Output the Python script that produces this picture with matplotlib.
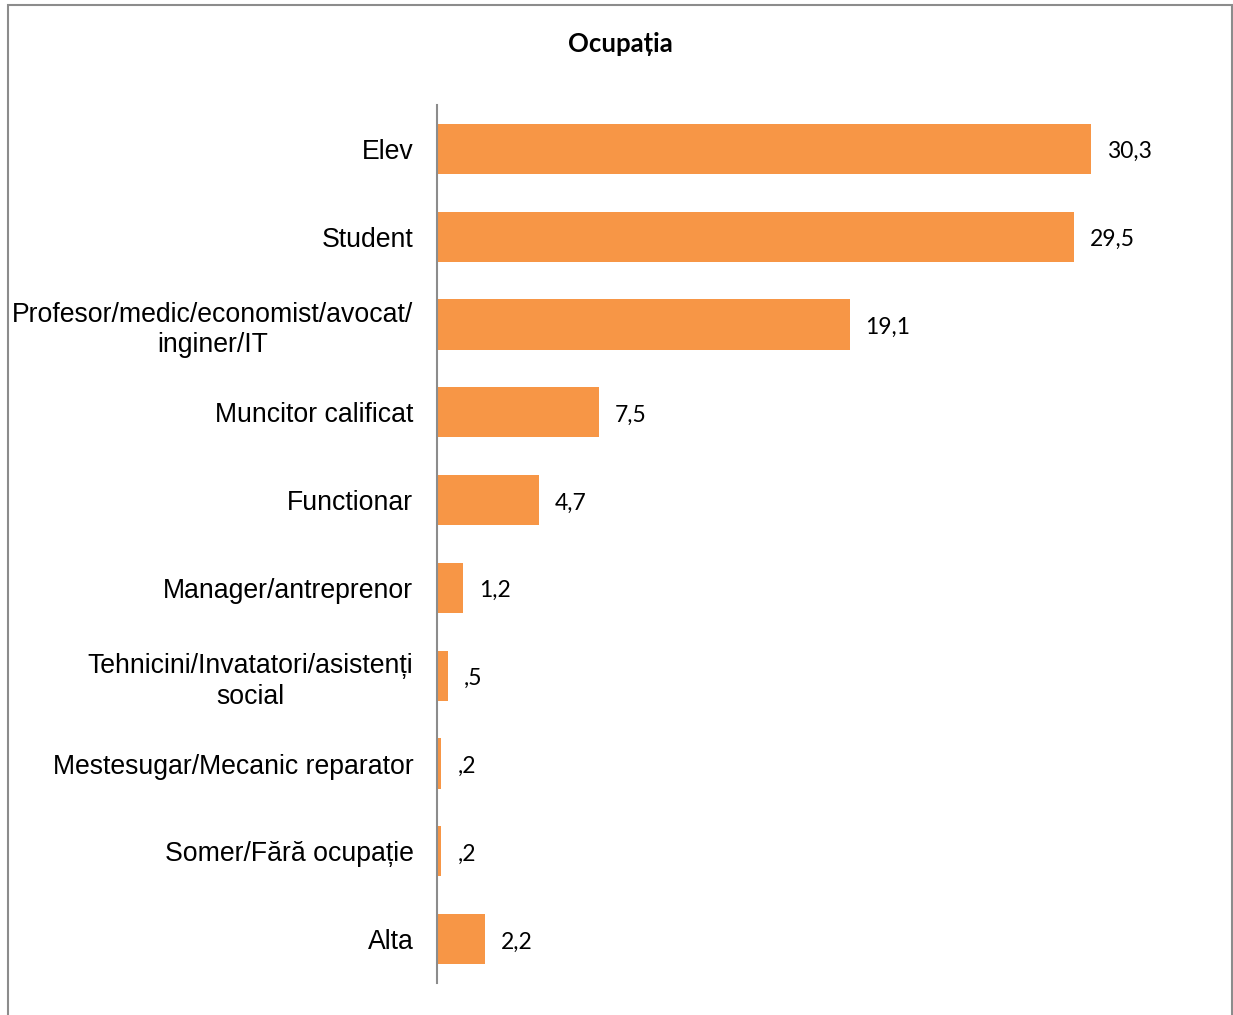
import matplotlib
matplotlib.use("Agg")
import matplotlib.pyplot as plt
from matplotlib.patches import Rectangle

categories = ["Elev", "Student", "Profesor/medic/economist/avocat/\ninginer/IT",
              "Muncitor calificat", "Functionar", "Manager/antreprenor",
              "Tehnicini/Invatatori/asistenți\nsocial", "Mestesugar/Mecanic reparator",
              "Somer/Fără ocupație", "Alta"]
values = [30.3, 29.5, 19.1, 7.5, 4.7, 1.2, 0.5, 0.2, 0.2, 2.2]
title = "Ocupația"

def fmt(v):
    s = f"{v:.1f}".replace(".", ",")
    if s.startswith("0"):
        s = s[1:]
    return s

fig = plt.figure(figsize=(12.33, 10.15), dpi=100)
ax = fig.add_axes([437/1233, 32/1015, (1193-437)/1233, (983-105)/1015])

y = list(range(len(categories)))
ax.barh(y, values, height=0.57, color="#F79646", zorder=2)
ax.set_ylim(len(categories) - 0.5, -0.5)
ax.set_xlim(0, 35)

for yi, v in zip(y, values):
    ax.annotate(fmt(v), (v, yi), xytext=(11.5, -2), textcoords="offset points",
                ha="left", va="center", fontsize=16.5, family=["Lato", "DejaVu Sans"],
                color="#000000")

ax.set_yticks(y)
ax.set_yticklabels(categories, fontsize=19.2, family=["Liberation Sans", "DejaVu Sans"],
                   multialignment="center", linespacing=1.25)
ax.tick_params(axis="y", length=0, pad=17)
ax.set_xticks([])
for s in ["top", "right", "bottom"]:
    ax.spines[s].set_visible(False)
ax.spines["left"].set_color("#8c8c8c")
ax.spines["left"].set_linewidth(1.5)
ax.set_facecolor("none")

fig.text(620/1233, 1 - 44/1015, title, ha="center", va="center", fontsize=18.5,
         fontweight="bold", family=["Lato", "DejaVu Sans"])

border = Rectangle((8/1233, -0.05), (1232-8)/1233, 1.05 - 5/1015, transform=fig.transFigure,
                   fill=False, edgecolor="#8c8c8c", linewidth=1.5, clip_on=False)
fig.patches.append(border)

fig.savefig("out.png", dpi=100)
